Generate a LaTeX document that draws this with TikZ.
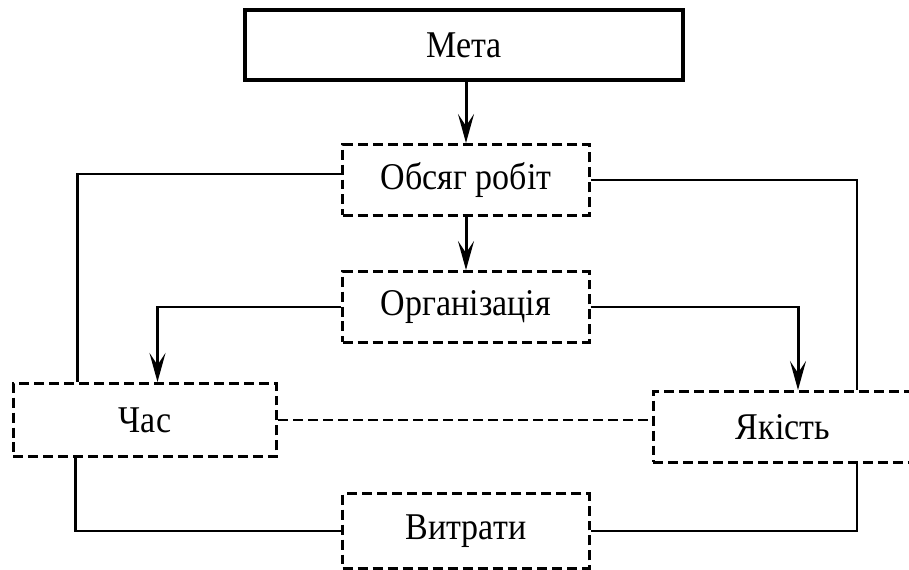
\documentclass[tikz,border=0pt]{standalone}
\usepackage{fontspec}
\setmainfont[FakeStretch=0.9]{Liberation Serif}
\usetikzlibrary{arrows.meta}

\begin{document}
\begin{tikzpicture}[x=0.02cm,y=-0.02cm,
  font=\fontsize{21.5}{24}\selectfont,
  dashline/.style={line width=1.7pt,dash pattern=on 0.2cm off 0.1cm},
  goal/.style={draw,line width=2pt,minimum width=8.76cm,minimum height=1.4cm},
  factor/.style={draw,dashline,minimum width=4.94cm,minimum height=1.42cm},
  link/.style={line width=1.7pt},
  arr/.style={link,-{Stealth[length=0.58cm,width=0.32cm,inset=0.24cm]}}]
\useasboundingbox (0,0) rectangle (909,570);
% boxes
\node[goal] (meta) at (464,45) {Мета};
\node[factor] (obs) at (466,180) {Обсяг робіт};
\node[factor] (org) at (466,307) {Організація};
\node[factor,minimum width=5.28cm,minimum height=1.46cm] (chas) at (145,420) {Час};
\node[factor,minimum width=5.2cm] (yak) at (783,427) {Якість};
\node[factor,minimum height=1.5cm] (vyt) at (466,531) {Витрати};
% links
\draw[arr] (meta.south -| obs.north) -- (obs.north);
\draw[arr] (obs) -- (org);
\draw[link] ([yshift=0.12cm]obs.west) -| ([xshift=-1.36cm]chas.north);
\draw[link] (obs.east) -| ([xshift=1.48cm]yak.north);
\draw[arr] (org.west) -| ([xshift=0.25cm]chas.north);
\draw[arr] (org.east) -| ([xshift=0.3cm]yak.north);
\draw[dashline] (chas.east) -- (chas.east -| yak.west);
\draw[link] ([xshift=-1.4cm]chas.south) |- (vyt.west);
\draw[link] ([xshift=1.48cm]yak.south) |- (vyt.east);
\end{tikzpicture}
\end{document}
